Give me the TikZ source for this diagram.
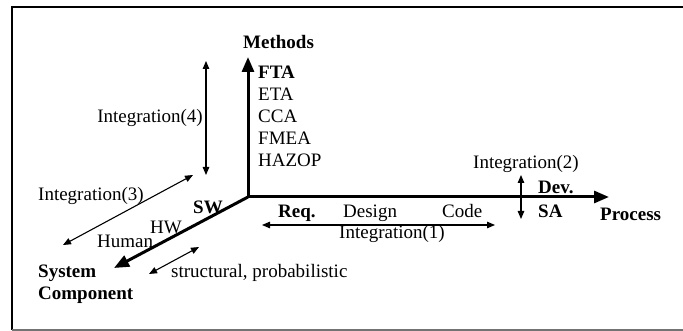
\documentclass[tikz,border=0pt]{standalone}
\usepackage{fontspec}
\setmainfont{Liberation Serif}
\usetikzlibrary{arrows.meta}
\begin{document}
\begin{tikzpicture}[x=1pt,y=-1pt,
  lbl/.style={inner sep=0pt,anchor=base west,font=\fontsize{19}{22}\selectfont},
  blbl/.style={lbl,font=\fontsize{19}{22}\selectfont\bfseries},
  axis/.style={line width=3pt,-{Triangle[length=15pt,width=12pt]}},
  dbl/.style={line width=1.1pt,{Triangle[length=8pt,width=6.5pt]}-{Triangle[length=8pt,width=6.5pt]}}]
\useasboundingbox (0,0) rectangle (683,331);
% frame, open on the right
\draw[line width=1.6pt] (683,7) -- (12,7) -- (12,330);
\draw[line width=1.4pt,black!55] (12,330) -- (683,330);

% axes
\coordinate (O) at (248,197);
\coordinate (mtip) at (248,57);
\coordinate (ptip) at (609,197);
\coordinate (stip) at (114,268);
\draw[axis] (O) -- (mtip);
\draw[axis] (O) -- (ptip);
\draw[axis] (O) -- (stip);

% methods axis labels
\node[blbl] (methods) at (243,49) {Methods};
\node[blbl] (fta) at (258,79) {FTA};
\node[lbl] (eta) at (258,101) {ETA};
\node[lbl] (cca) at (258,123) {CCA};
\node[lbl] (fmea) at (258,145) {FMEA};
\node[lbl] (hazop) at (258,167) {HAZOP};

% integration along the methods axis
\coordinate (i4a) at (206,61);
\coordinate (i4b) at (206,175);
\draw[dbl] (i4a) -- (i4b);
\node[lbl,anchor=base east] (int4) at (203,123) {Integration(4)};

% component axis
\coordinate (i3a) at (63,245);
\coordinate (i3b) at (193,175);
\draw[dbl] (i3a) -- (i3b);
\node[lbl] (int3) at (38,201) {Integration(3)};
\node[blbl] (sw) at (193,214) {SW};
\node[lbl] (hw) at (150,234) {HW};
\node[lbl] (human) at (97,248) {Human};
\node[blbl] (system) at (38,277) {System};
\node[blbl] (component) at (38,299) {Component};
\coordinate (sta) at (149,274);
\coordinate (stb) at (199,247);
\draw[dbl] (sta) -- (stb);
\node[lbl] (struct) at (171,278) {structural, probabilistic};

% process axis
\node[blbl] (req) at (278,218) {Req.};
\node[lbl] (design) at (343,218) {Design};
\node[lbl] (code) at (442,218) {Code};
\coordinate (i1a) at (262,225);
\coordinate (i1b) at (495,225);
\draw[dbl] (i1a) -- (i1b);
\node[lbl,anchor=base] (int1) at (392,239) {Integration(1)};

\node[lbl] (int2) at (473,169) {Integration(2)};
\coordinate (i2a) at (521,175);
\coordinate (i2b) at (521,219);
\draw[dbl] (i2a) -- (i2b);
\node[blbl] (dev) at (538,194) {Dev.};
\node[blbl] (sa) at (538,218) {SA};
\node[blbl] (process) at (600,221) {Process};
\end{tikzpicture}
\end{document}
